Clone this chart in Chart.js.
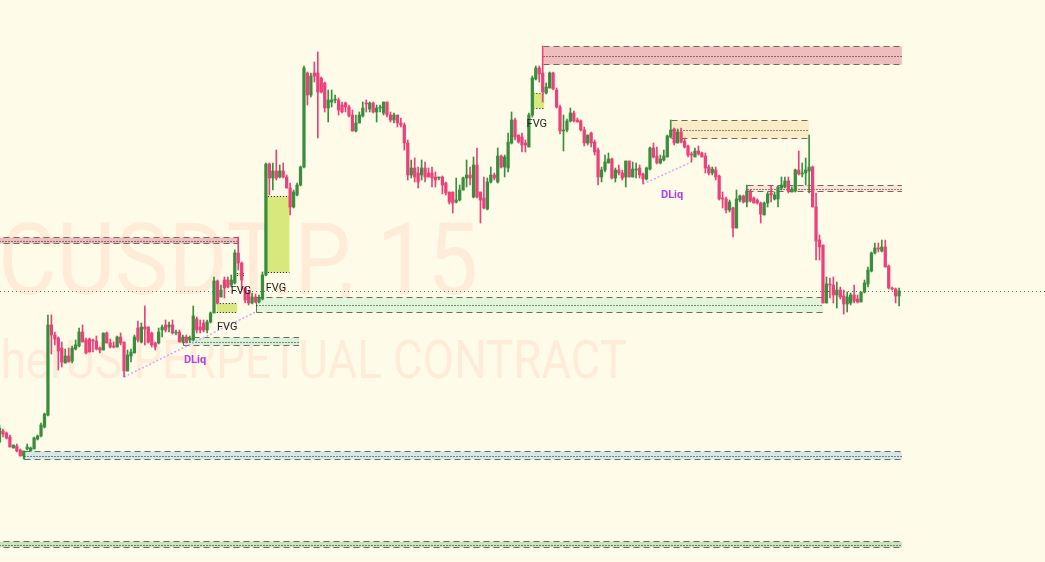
<!DOCTYPE html>
<html>
<head>
<meta charset="utf-8">
<script src="https://cdn.jsdelivr.net/npm/chart.js@4.4.0/dist/chart.umd.min.js"></script>
<style>
  html, body { margin: 0; padding: 0; background: #fffbe9; }
  #wrap { width: 1045px; height: 562px; position: relative; }
</style>
</head>
<body>
<div id="wrap"><canvas id="chart"></canvas></div>
<script>
// 15m candles, price in chart units
const open = [
  558,569,567,563,552,554,550,544,551,549, 551,561,564,573,585,675,665,662,652,637,
  644,639,651,654,668,660,661,660,659,652, 650,667,657,654,653,663,658,629,644,647,
  672,658,673,673,667,657,657,670,675,673, 675,667,668,658,663,660,660,681,673,677,
  670,678,687,719,703,720,720,715,717,747, 737,712,707,697,703,698,701,725,836,822,
  829,823,829,823,812,793,805,815,833,927, 905,927,927,922,917,892,898,900,900,895,
  897,893,885,869,877,884,897,891,897,888, 892,887,898,885,880,885,877,875,857,825,
  832,827,825,832,827,827,823,822,823,817, 808,808,798,800,810,822,825,803,835,808,
  802,791,818,825,818,844,833,832,857,880, 865,863,857,853,885,921,932,927,907,912,
  927,910,893,869,870,879,887,880,879,870, 857,867,858,850,823,830,837,841,822,830,
  827,823,839,823,830,832,826,821,831,852, 844,837,840,843,863,871,857,868,859,854,
  846,843,849,847,844,833,827,830,824,802, 801,790,792,772,800,804,798,809,802,800,
  797,785,797,807,801,801,812,813,819,808, 809,830,826,827,829,833,793,760,755,697,
  716,715,705,710,704,696,697,705,701,698, 708,716,729,747,752,749,753,734,712,711,
  704
];
const high = [
  575,571,568,565,555,556,551,549,556,553, 563,565,577,587,685,685,668,663,658,651,
  652,654,660,672,675,662,662,661,664,653, 667,668,661,658,664,667,658,650,651,665,
  679,677,694,673,668,658,672,675,680,678, 680,670,670,665,665,664,694,683,680,680,
  680,688,723,720,715,723,723,725,750,763, 738,713,708,707,706,705,728,837,837,837,
  850,835,837,825,817,810,817,834,934,928, 927,938,948,923,918,910,910,905,902,898,
  898,895,890,885,888,898,900,898,898,895, 895,898,898,888,887,885,882,877,860,840,
  842,833,840,838,832,833,828,823,824,818, 808,808,822,815,823,840,833,843,852,808,
  823,822,833,827,852,845,845,867,888,882, 865,867,860,887,924,934,934,954,917,928,
  928,912,895,885,881,892,889,882,880,873, 865,868,860,852,833,845,847,842,832,835,
  830,839,839,838,837,835,827,833,853,857, 853,845,850,865,880,872,871,872,862,855,
  848,852,854,848,847,835,833,833,825,808, 803,800,793,810,805,805,815,810,803,801,
  798,798,808,814,808,814,823,823,823,813, 831,849,837,842,865,834,807,765,755,723,
  722,723,718,713,710,708,707,715,705,708, 720,733,748,757,757,760,760,735,713,712,
  712
];
const low = [
  557,563,561,553,552,548,544,541,550,549, 551,560,563,572,584,646,655,630,633,637,
  638,637,650,653,658,646,648,648,650,647, 650,657,652,652,653,655,623,629,638,647,
  658,657,655,657,653,650,656,663,668,668, 666,665,658,657,657,658,659,667,667,668,
  667,677,687,696,703,702,712,713,716,730, 710,697,695,696,697,697,700,724,805,810,
  820,822,822,812,785,792,804,814,832,895, 903,918,862,907,888,878,893,897,885,887,
  888,883,869,868,877,883,888,888,887,878, 888,885,883,878,877,873,873,850,820,822,
  818,812,820,818,823,813,813,820,806,805, 796,787,797,799,810,813,815,802,802,777,
  791,790,817,820,817,832,823,828,856,860, 857,848,848,853,883,920,918,898,906,912,
  910,892,866,849,868,878,878,878,869,854, 855,853,845,815,818,828,837,821,818,825,
  820,813,823,823,822,822,816,820,830,842, 836,836,839,843,862,855,857,857,852,843,
  838,843,845,843,827,825,825,820,800,792, 787,788,763,772,798,797,793,798,797,796,
  777,785,793,798,800,793,810,812,807,808, 808,825,823,815,807,793,740,740,697,697,
  702,697,692,701,686,688,695,697,697,698, 707,713,728,746,748,748,733,711,710,697,
  694
];
const close = [
  572,566,562,553,555,549,544,549,553,552, 562,564,575,586,675,665,661,649,638,644,
  638,652,655,668,658,647,648,659,651,650, 667,657,653,653,663,657,629,645,648,663,
  660,673,671,658,655,653,668,673,670,675, 667,668,658,663,658,662,684,670,670,670,
  678,687,719,697,710,712,713,720,747,737, 720,700,697,703,698,702,725,836,822,829,
  822,829,823,812,793,808,815,833,932,905, 924,924,908,908,892,900,900,901,890,888,
  893,884,869,877,885,892,896,897,888,892, 893,898,885,880,885,877,875,857,825,832,
  823,818,832,823,823,822,820,823,815,807, 798,797,800,810,822,825,822,835,803,800,
  792,818,825,822,844,833,843,858,880,863, 858,855,855,885,922,932,926,908,913,927,
  911,893,869,870,879,887,879,878,870,857, 865,857,848,823,830,838,841,822,830,827,
  822,839,823,831,831,825,821,832,852,843, 837,841,844,864,870,857,868,858,853,845,
  845,849,846,843,832,827,831,823,801,801, 790,798,772,801,804,798,809,799,797,797,
  786,797,806,805,805,813,815,819,809,810, 830,826,827,830,833,793,759,753,697,716,
  715,705,710,703,696,703,705,699,698,708, 717,730,747,752,751,753,733,712,711,704,
  709
];

// zones: bar index where they start / end, upper and lower price
const zoneStart  = [157, 194, 216,  -2,  74,   53,   7,  -2];
const zoneEnd    = [260.8, 234, 260.8, 69, 238, 86.6, 260.8, 260.8];
const zoneTop    = [954, 880, 815, 763, 703, 663, 549, 459];
const zoneBottom = [936, 862, 809, 757, 688, 655, 541, 453];

// fair value gaps
const fvgStart  = [76.7, 62.8, 154.3, 68.6];
const fvgEnd    = [83.8, 68.7, 157.4, 70.6];
const fvgTop    = [804, 697, 907, 727];
const fvgBottom = [728, 688, 892, 725];

// text tags: bar index, price
const tagText  = ['FVG', 'FVG', 'FVG', 'FVG', 'DLiq', 'DLiq'];
const tagIndex = [69.8, 79.9, 65.8, 155.3, 56.5, 194.4];
const tagPrice = [709, 712, 673, 876, 640, 805];

// liquidity sweep lines
const sweepFrom = [[36, 623], [186, 816]];
const sweepTo   = [[74, 688], [200, 838]];

const lastPrice = 709;
const symbolTitle = 'ETCUSDT.P, 15';
const symbolDesc = 'ETC / TetherUS PERPETUAL CONTRACT';

const UP = '#388e3c', DOWN = '#ec407a';
const zoneFill = ['#efbdbd', '#fcecc6', '#fde3d8', '#efbdbd', '#e1f5da', '#d9f1d6', '#d5e7e6', '#c8e6bc'];
const zoneEdge = [false, false, false, false, true, true, true, false];

const colors = close.map((c, i) => (c >= open[i] ? UP : DOWN));
const wicks = low.map((l, i) => ({ x: i, y: [l, high[i]] }));
const bodies = open.map((o, i) => ({ x: i, y: [o, close[i]] }));

function seg(ctx, x1, y1, x2, y2) {
  ctx.beginPath(); ctx.moveTo(x1, y1); ctx.lineTo(x2, y2); ctx.stroke();
}

// condensed watermark text, right edge at rx
function mark(ctx, text, size, squeeze, rx, by) {
  ctx.save();
  ctx.translate(rx, by);
  ctx.scale(squeeze, 1);
  ctx.font = size + 'px Roboto, sans-serif';
  ctx.textAlign = 'right';
  ctx.textBaseline = 'alphabetic';
  ctx.fillText(text, 0, 0);
  ctx.restore();
}

const overlay = {
  id: 'overlay',
  beforeDatasetsDraw(chart) {
    const { ctx, scales: { x, y } } = chart;
    const py = v => Math.round(y.getPixelForValue(v)) + 0.5;
    ctx.save();

    // watermark
    ctx.fillStyle = 'rgba(250,150,120,0.14)';
    mark(ctx, symbolTitle, 100, 0.9, 478, 294);
    mark(ctx, symbolDesc, 53, 0.86, 627, 378);

    // zones
    ctx.lineWidth = 1;
    zoneTop.forEach((top, i) => {
      const x1 = Math.round(x.getPixelForValue(zoneStart[i])) + 0.5;
      const x2 = x.getPixelForValue(zoneEnd[i]);
      const y1 = py(top), y2 = py(zoneBottom[i]);
      ctx.fillStyle = zoneFill[i];
      ctx.fillRect(x1, y1, x2 - x1, y2 - y1);
      ctx.strokeStyle = '#6b6b62';
      ctx.setLineDash([6, 4]);
      seg(ctx, x1, y1, x2, y1);
      seg(ctx, x1, y2, x2, y2);
      if (zoneEdge[i]) {
        ctx.setLineDash([]);
        seg(ctx, x1, y1, x1, y2);
      }
      ctx.strokeStyle = '#1b1b1b';
      ctx.setLineDash([1, 2]);
      const ym = Math.round((y1 + y2) / 2) + 0.5;
      seg(ctx, x1, ym, x2, ym);
    });

    // fair value gaps
    fvgTop.forEach((top, i) => {
      const x1 = x.getPixelForValue(fvgStart[i]);
      const x2 = x.getPixelForValue(fvgEnd[i]);
      const y1 = py(top), y2 = py(fvgBottom[i]);
      ctx.fillStyle = '#d8e87c';
      ctx.fillRect(x1, y1, x2 - x1, y2 - y1);
      ctx.strokeStyle = '#111';
      ctx.setLineDash([1, 2]);
      seg(ctx, x1, y1, x2, y1);
      seg(ctx, x1, y2, x2, y2);
    });

    // last price
    ctx.strokeStyle = '#3f7f3f';
    ctx.setLineDash([1, 3]);
    const lp = py(lastPrice);
    seg(ctx, 0, lp, chart.width, lp);

    // sweep lines
    ctx.strokeStyle = '#dda6f2';
    ctx.lineWidth = 1.5;
    ctx.setLineDash([2, 2]);
    sweepFrom.forEach((p, i) => {
      seg(ctx, x.getPixelForValue(p[0]), y.getPixelForValue(p[1]),
          x.getPixelForValue(sweepTo[i][0]), y.getPixelForValue(sweepTo[i][1]));
    });
    ctx.restore();
  },
  afterDatasetsDraw(chart) {
    const { ctx, scales: { x, y } } = chart;
    ctx.save();
    ctx.textAlign = 'center';
    ctx.textBaseline = 'middle';
    tagText.forEach((t, i) => {
      const dl = t === 'DLiq';
      ctx.font = dl ? 'bold 11px Roboto, sans-serif' : '11px Roboto, sans-serif';
      ctx.fillStyle = dl ? '#b040e8' : '#1e1e1e';
      ctx.fillText(t, x.getPixelForValue(tagIndex[i]), y.getPixelForValue(tagPrice[i]));
    });
    ctx.restore();
  }
};

new Chart(document.getElementById('chart'), {
  type: 'bar',
  data: {
    datasets: [
      { data: wicks, backgroundColor: colors, barThickness: 1, grouped: false, order: 2 },
      { data: bodies, backgroundColor: colors, barThickness: 2.6, minBarLength: 1, grouped: false, order: 1 }
    ]
  },
  options: {
    responsive: true,
    maintainAspectRatio: false,
    animation: false,
    layout: { padding: 0 },
    plugins: { legend: { display: false }, tooltip: { enabled: false } },
    scales: {
      x: { type: 'linear', offset: false, min: 0.145, max: 302.17, display: false },
      y: { min: 438, max: 1000, display: false }
    }
  },
  plugins: [overlay]
});
</script>
</body>
</html>
